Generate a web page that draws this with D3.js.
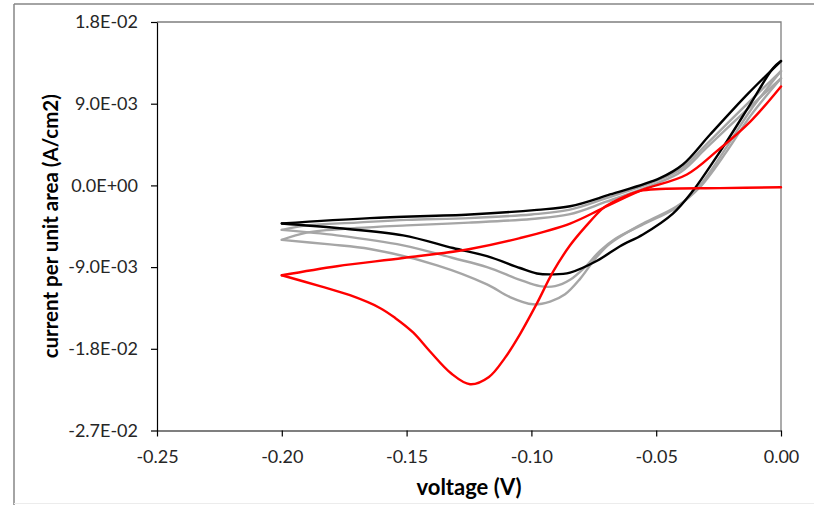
<!DOCTYPE html>
<html>
<head>
<meta charset="utf-8">
<script src="https://cdn.jsdelivr.net/npm/d3@7"></script>
<style>
  html, body { margin: 0; padding: 0; background: #fff; }
  svg { display: block; }
</style>
</head>
<body>
<svg id="chart" width="814" height="505"></svg>
<script>
// ---- data ----
const xTickValues = [-0.25, -0.20, -0.15, -0.10, -0.05, 0.00];
const xTickLabels = ["-0.25", "-0.20", "-0.15", "-0.10", "-0.05", "0.00"];
const yTickValues = [-0.027, -0.018, -0.009, 0, 0.009, 0.018];
const yTickLabels = ["-2.7E-02", "-1.8E-02", "-9.0E-03", "0.0E+00", "9.0E-03", "1.8E-02"];

// first cycle (red): forward scan 0 -> -0.2 V, then return -0.2 -> 0 V
const redForward = [[0,-0.0002],[-0.0244,-0.0003],[-0.0485,-0.0004],[-0.0565,-0.0006],[-0.0625,-0.0012],
  [-0.0677,-0.0019],[-0.0713,-0.0025],[-0.0785,-0.0046],[-0.0845,-0.0066],[-0.0913,-0.0095],
  [-0.0978,-0.0130],[-0.1046,-0.0164],[-0.1106,-0.0190],[-0.1170,-0.0211],
  [-0.1246,-0.0219],[-0.1322,-0.0207],[-0.1406,-0.0183],[-0.1474,-0.0162],
  [-0.1546,-0.0146],[-0.1607,-0.0135],[-0.1727,-0.0121],[-0.1847,-0.0111],[-0.2,-0.0099]];
const redReturn = [[-0.2,-0.0099],[-0.1779,-0.0089],[-0.1514,-0.0080],[-0.1246,-0.0070],
  [-0.1046,-0.0058],[-0.0845,-0.0042],[-0.0713,-0.0025],[-0.0565,-0.0006],[-0.0377,0.0012],
  [-0.0256,0.0038],[-0.0124,0.0070],[0,0.0109]];

// intermediate cycles (grey)
const greyAForward = [[0,0.0118],[-0.0124,0.0076],[-0.0216,0.0038],[-0.0325,-0.0002],[-0.0417,-0.0023],
  [-0.0553,-0.0042],[-0.0685,-0.0064],[-0.0745,-0.0081],[-0.0805,-0.0103],[-0.0865,-0.0120],
  [-0.0925,-0.0128],[-0.0994,-0.0131],[-0.1086,-0.0123],[-0.1178,-0.0109],[-0.1378,-0.0088],
  [-0.1647,-0.0070],[-0.1807,-0.0065],[-0.2,-0.0060]];
const greyAReturn = [[-0.2,-0.0060],[-0.19,-0.0052],[-0.17,-0.0047],[-0.15,-0.0044],[-0.125,-0.0041],
  [-0.1,-0.0037],[-0.085,-0.0032],[-0.07,-0.0018],[-0.05,0.0002],[-0.04,0.0015],[-0.03,0.0041],
  [-0.015,0.0080],[0,0.0118]];
const greyBForward = [[0,0.0126],[-0.0124,0.0082],[-0.0216,0.0043],[-0.0325,0.0000],[-0.0417,-0.0024],
  [-0.0553,-0.0043],[-0.0665,-0.0059],[-0.0725,-0.0072],[-0.0785,-0.0090],[-0.0845,-0.0104],
  [-0.0905,-0.0111],[-0.0966,-0.0111],[-0.1046,-0.0104],[-0.1178,-0.0090],[-0.1314,-0.0080],
  [-0.1514,-0.0066],[-0.1779,-0.0055],[-0.2,-0.0049]];
const greyBReturn = [[-0.2,-0.0049],[-0.19,-0.0044],[-0.17,-0.0041],[-0.15,-0.0038],[-0.125,-0.0036],
  [-0.1,-0.0032],[-0.085,-0.0027],[-0.07,-0.0014],[-0.05,0.0005],[-0.04,0.0018],[-0.03,0.0045],
  [-0.015,0.0086],[0,0.0126]];

// last cycle (black)
const blackForward = [[0,0.0137],[-0.0032,0.0129],[-0.0124,0.0089],[-0.0216,0.0049],[-0.0284,0.0021],
  [-0.0353,-0.0006],[-0.0433,-0.0031],[-0.0553,-0.0054],[-0.0645,-0.0067],[-0.0737,-0.0083],
  [-0.0845,-0.0096],[-0.0913,-0.0098],[-0.0978,-0.0097],[-0.1046,-0.0091],[-0.1178,-0.0078],
  [-0.1314,-0.0069],[-0.1514,-0.0055],[-0.1779,-0.0047],[-0.2,-0.0042]];
const blackReturn = [[-0.2,-0.0042],[-0.1647,-0.0036],[-0.1246,-0.0032],[-0.0978,-0.0027],
  [-0.0845,-0.0023],[-0.0685,-0.0010],[-0.0485,0.0008],[-0.0393,0.0023],[-0.0284,0.0056],
  [-0.0136,0.0100],[0,0.0137]];

const series = [
  { name: "grey A", color: "#a6a6a6", branches: [greyAForward, greyAReturn] },
  { name: "grey B", color: "#a6a6a6", branches: [greyBForward, greyBReturn] },
  { name: "last",   color: "#000000", branches: [blackForward, blackReturn] },
  { name: "first",  color: "#ff0000", branches: [redForward, redReturn] }
];

// ---- layout ----
const svg = d3.select("#chart");
const plot = { left: 157, right: 781, top: 22, bottom: 430.5 };
const x = d3.scaleLinear().domain([-0.25, 0]).range([plot.left, plot.right]);
const y = d3.scaleLinear().domain([-0.027, 0.018]).range([plot.bottom, plot.top]);

// chart area border
svg.append("line").attr("x1", 14).attr("x2", 814).attr("y1", 4).attr("y2", 4)
  .attr("stroke", "#868686").attr("stroke-width", 1.5);
svg.append("line").attr("x1", 14).attr("x2", 14).attr("y1", 4).attr("y2", 505)
  .attr("stroke", "#868686").attr("stroke-width", 1.5);
svg.append("line").attr("x1", 14).attr("x2", 814).attr("y1", 503.5).attr("y2", 503.5)
  .attr("stroke", "#ececec").attr("stroke-width", 1);

// plot area border (top & right)
svg.append("path")
  .attr("d", `M${plot.left},${plot.top}H${plot.right}V${plot.bottom}`)
  .attr("fill", "none").attr("stroke", "#7f7f7f").attr("stroke-width", 1.3);

// curves
const line = d3.line()
  .x(d => x(d[0])).y(d => y(d[1]))
  .curve(d3.curveCatmullRom.alpha(0.5));

const gCurves = svg.append("g");
series.forEach(s => {
  s.branches.forEach(b => {
    gCurves.append("path")
      .attr("d", line(b))
      .attr("fill", "none")
      .attr("stroke", s.color)
      .attr("stroke-width", 2.4)
      .attr("stroke-linejoin", "round")
      .attr("stroke-linecap", "round");
  });
});

// axes
const fontFam = "Lato, 'Open Sans', sans-serif";
const xAxis = d3.axisBottom(x).tickValues(xTickValues)
  .tickFormat((d, i) => xTickLabels[i]).tickSize(6).tickSizeOuter(0).tickPadding(14);
const yAxis = d3.axisLeft(y).tickValues(yTickValues)
  .tickFormat((d, i) => yTickLabels[i]).tickSize(6).tickSizeOuter(0).tickPadding(13);

const gx = svg.append("g").attr("transform", `translate(0,${plot.bottom})`).call(xAxis);
const gy = svg.append("g").attr("transform", `translate(${plot.left},0)`).call(yAxis);
[gx, gy].forEach(g => {
  g.select(".domain").attr("stroke", "#000").attr("stroke-width", 1.2);
  g.selectAll(".tick line").attr("stroke", "#000").attr("stroke-width", 1.2);
  g.selectAll(".tick text").attr("fill", "#262626")
    .style("font-family", fontFam).style("font-size", "18px");
});

// axis titles
svg.append("text")
  .attr("x", (plot.left + plot.right) / 2).attr("y", 495)
  .attr("text-anchor", "middle")
  .style("font-family", fontFam).style("font-weight", "bold").style("font-size", "22px")
  .attr("fill", "#000")
  .text("voltage (V)");
svg.append("text")
  .attr("transform", `translate(58,${(plot.top + plot.bottom) / 2}) rotate(-90)`)
  .attr("text-anchor", "middle")
  .style("font-family", fontFam).style("font-weight", "bold").style("font-size", "20.5px")
  .attr("fill", "#000")
  .text("current per unit area (A/cm2)");
</script>
</body>
</html>
